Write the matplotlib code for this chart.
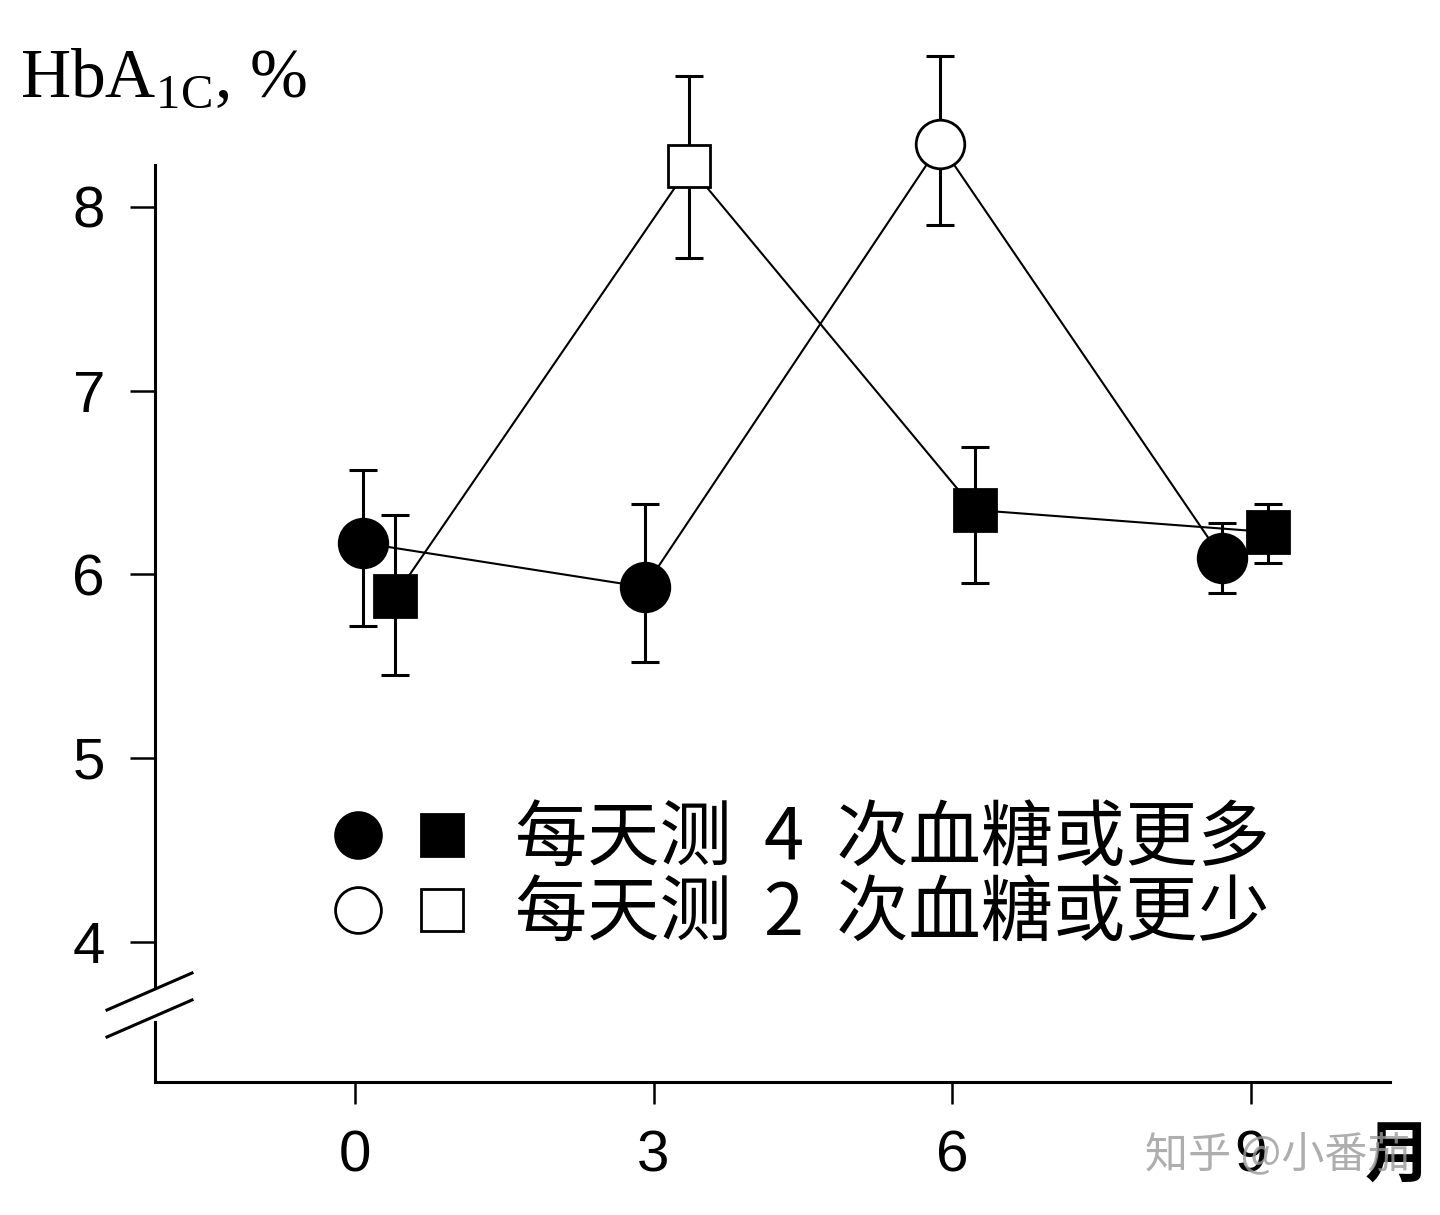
import matplotlib
matplotlib.use("Agg")
import matplotlib.pyplot as plt
from matplotlib.lines import Line2D

# data (months, HbA1c %)
months = [0, 3, 6, 9]
tick_labels = ["0", "3", "6", "9"]

circle_x = [0.08, 2.91, 5.88, 8.71]
circle_y = [6.17, 5.93, 8.34, 6.09]
circle_lo = [5.72, 5.52, 7.90, 5.90]
circle_hi = [6.57, 6.38, 8.82, 6.28]
circle_filled = [True, True, False, True]

square_x = [0.40, 3.36, 6.23, 9.17]
square_y = [5.88, 8.22, 6.35, 6.23]
square_lo = [5.45, 7.72, 5.95, 6.06]
square_hi = [6.32, 8.71, 6.69, 6.38]
square_filled = [True, False, True, True]

yticks = [4, 5, 6, 7, 8]
legend_labels = ["每天测  4  次血糖或更多", "每天测  2  次血糖或更少"]

W, H = 1440, 1215
plt.rcParams["font.family"] = ["Liberation Sans", "DejaVu Sans"]
plt.rcParams["mathtext.fontset"] = "custom"
plt.rcParams["mathtext.rm"] = "Liberation Serif"

fig = plt.figure(figsize=(W / 100, H / 100), dpi=100)
ax = fig.add_axes([155 / W, 1 - 1082 / H, (1390 - 155) / W, 1082 / H])
ax.set_xlim(-2.01, 10.40)
ax.set_ylim(3.236, 9.126)

for s in ["top", "right"]:
    ax.spines[s].set_visible(False)
ax.spines["left"].set_linewidth(2.2)
ax.spines["bottom"].set_linewidth(2.2)
ax.spines["left"].set_bounds(3.747, 8.23)
# lower piece of the broken y axis
ax.plot([0, 0], [3.56, 3.236], color="black", lw=2.2,
        transform=ax.get_yaxis_transform(), clip_on=False)

ax.set_yticks(yticks)
ax.set_yticklabels([str(v) for v in yticks])
ax.set_xticks(months)
ax.set_xticklabels(tick_labels)
ax.tick_params(axis="y", length=18, width=1.8, pad=18, labelsize=42)
ax.tick_params(axis="x", length=16, width=1.8, pad=18, labelsize=42)


def draw_series(xs, ys, lo, hi, filled, marker, ms):
    ax.plot(xs, ys, color="black", lw=1.5, zorder=1)
    yerr = [[y - l for y, l in zip(ys, lo)], [h - y for y, h in zip(ys, hi)]]
    ax.errorbar(xs, ys, yerr=yerr, fmt="none", ecolor="black",
                elinewidth=2.2, capsize=10, capthick=2.2, zorder=2)
    for x, y, f in zip(xs, ys, filled):
        ax.plot([x], [y], marker=marker, ms=ms, mew=2.0, mec="black",
                mfc="black" if f else "white", ls="none", zorder=3)


draw_series(circle_x, circle_y, circle_lo, circle_hi, circle_filled, "o", 35)
draw_series(square_x, square_y, square_lo, square_hi, square_filled, "s", 30)

# axis break marks
for y0 in (1010, 1037):
    fig.add_artist(Line2D([107 / W, 192 / W], [1 - y0 / H, 1 - (y0 - 37) / H],
                          color="black", lw=2.2))

# y label
fig.text(20 / W, 1 - 80 / H, r"HbA$_{\mathrm{1C}}$, %", fontsize=50,
         family="Liberation Serif", va="center", ha="left")

# legend drawn by hand
rows = [(835, True), (910, False)]
for (yp, filled), label in zip(rows, legend_labels):
    fc = "black" if filled else "white"
    fig.add_artist(Line2D([358 / W], [1 - yp / H], marker="o", ms=33,
                          mfc=fc, mec="black", mew=2.0, ls="none"))
    fig.add_artist(Line2D([442 / W], [1 - yp / H], marker="s", ms=30,
                          mfc=fc, mec="black", mew=2.0, ls="none"))
    fig.text(515 / W, 1 - (yp + 4) / H, label, fontsize=52,
             family=["Noto Sans CJK SC", "DejaVu Sans"], va="center", ha="left")

# x unit
fig.text(1398 / W, 1 - 1157 / H, "月", fontsize=48, fontweight="bold",
         family=["Noto Sans CJK SC", "DejaVu Sans"], va="center", ha="center")

# watermark
fig.text(1278 / W, 1 - 1155 / H, "知乎 @小番茄", fontsize=31, color="#9a9a9a",
         alpha=0.8, family=["Noto Sans CJK SC", "DejaVu Sans"],
         va="center", ha="center")

fig.savefig("out.png", dpi=100, facecolor="white")
